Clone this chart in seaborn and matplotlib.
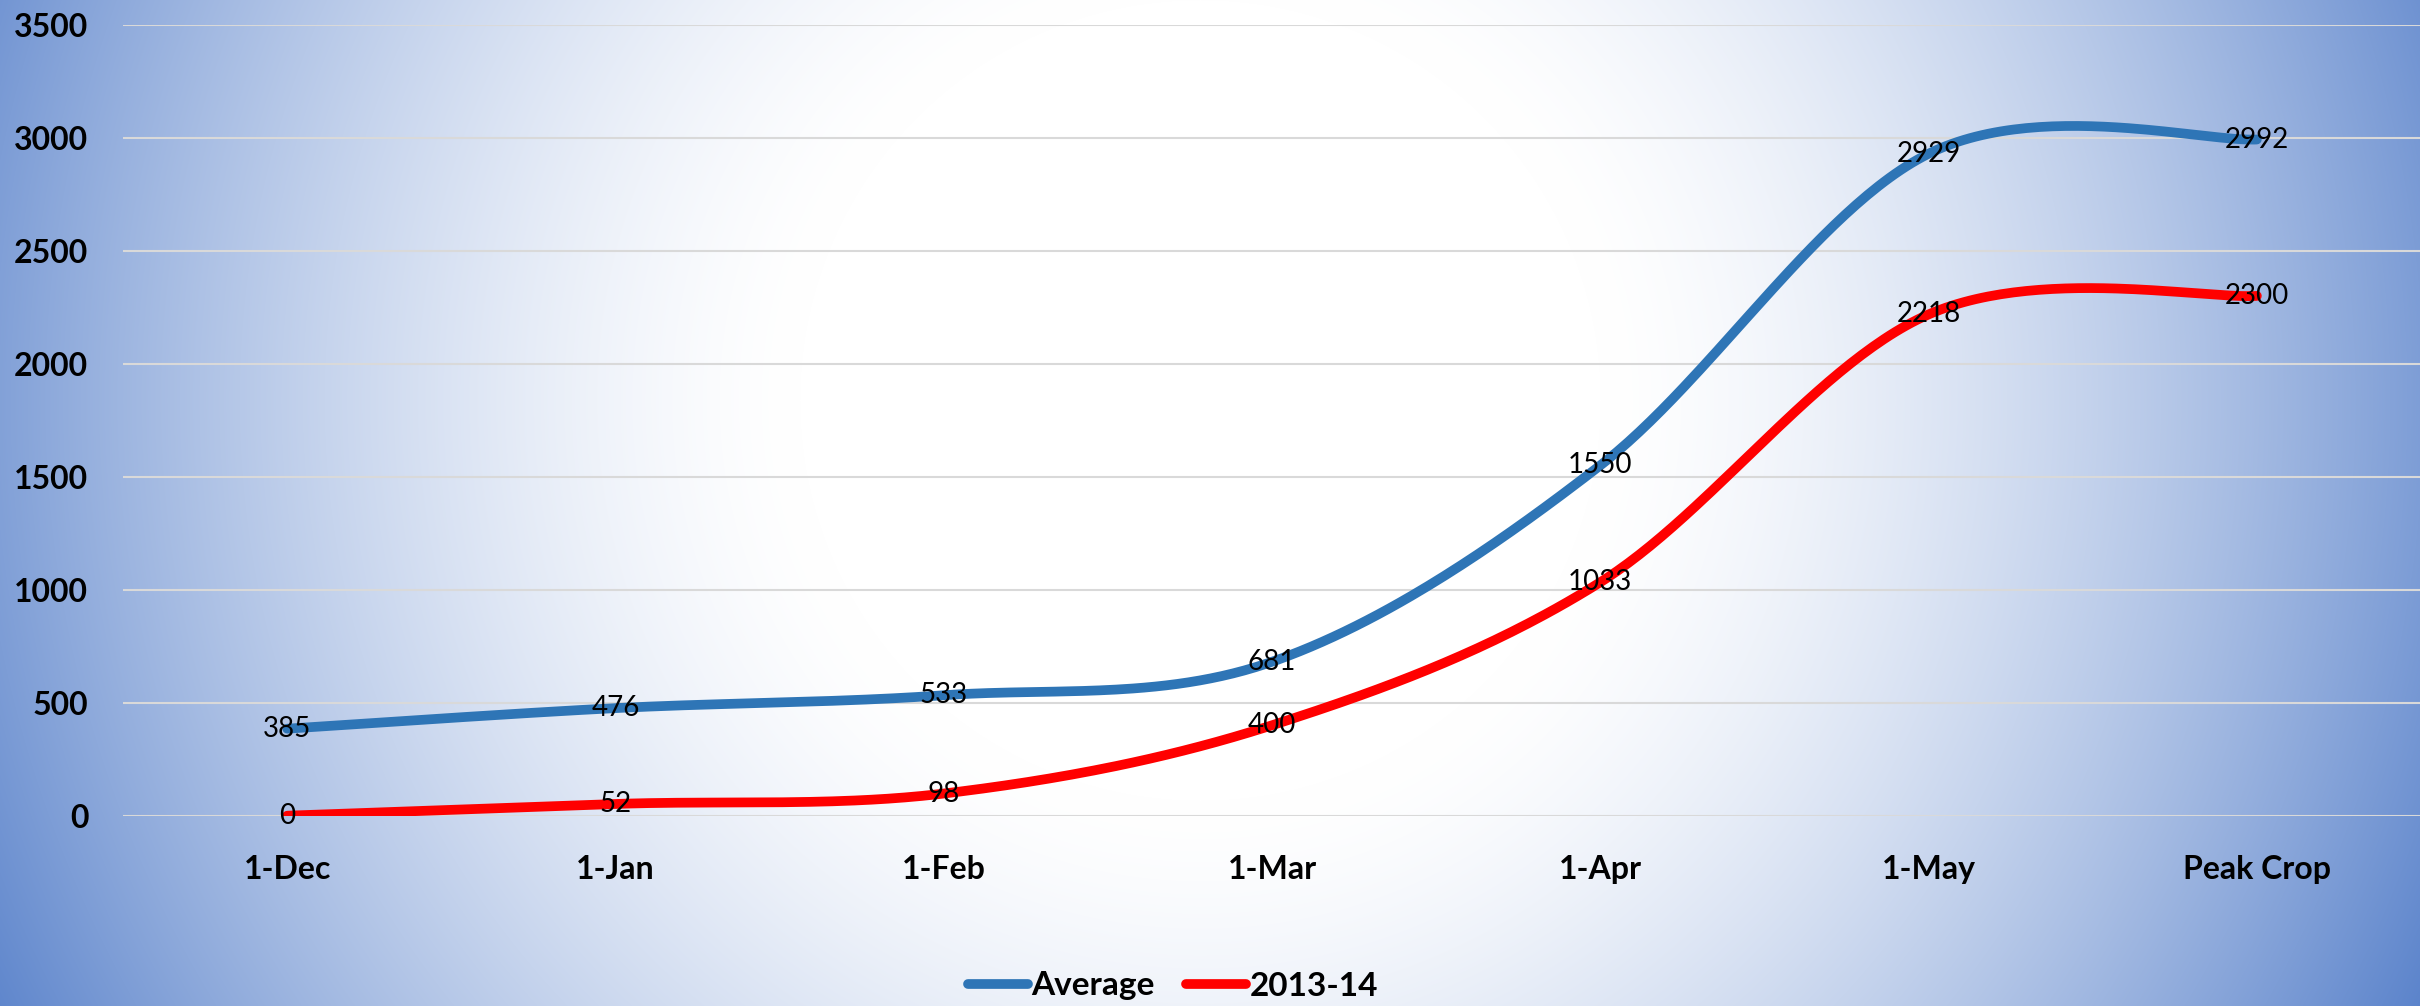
import numpy as np
import pandas as pd
import matplotlib
matplotlib.use("Agg")
import matplotlib.pyplot as plt
import seaborn as sns
from matplotlib.lines import Line2D

# Chart data
categories = ["1-Dec", "1-Jan", "1-Feb", "1-Mar", "1-Apr", "1-May", "Peak Crop"]
average = [385, 476, 533, 681, 1550, 2929, 2992]
season_2013_14 = [0, 52, 98, 400, 1033, 2218, 2300]
y_ticks = [0, 500, 1000, 1500, 2000, 2500, 3000, 3500]

BLUE = "#2E75B6"
RED = "#FF0000"
EDGE_BLUE = np.array([68, 114, 196]) / 255.0


def excel_smooth(xs, ys, n=60):
    """Bezier smoothing the way spreadsheet 'smoothed line' charts draw it."""
    pts = np.column_stack([xs, ys]).astype(float)
    padded = np.vstack([pts[0], pts, pts[-1]])
    out = []
    for i in range(len(pts) - 1):
        p0, p1, p2, p3 = padded[i], padded[i + 1], padded[i + 2], padded[i + 3]
        c1 = p1 + (p2 - p0) / 6
        c2 = p2 - (p3 - p1) / 6
        t = np.linspace(0, 1, n)[:, None]
        seg = (1 - t) ** 3 * p1 + 3 * (1 - t) ** 2 * t * c1 + 3 * (1 - t) * t ** 2 * c2 + t ** 3 * p2
        out.append(seg if i == 0 else seg[1:])
    return np.vstack(out)


sns.set_style("white")
plt.rcParams["font.family"] = ["Lato", "DejaVu Sans"]
plt.rcParams["text.color"] = "black"

W, H = 2420, 1006
fig = plt.figure(figsize=(W / 100, H / 100), dpi=100)

# radial background, white centre fading to blue
yy, xx = np.mgrid[0:H, 0:W]
r = np.hypot(xx - 1200, yy - 400)
t = np.clip((r - 400) / (1450 - 400), 0, 1) ** 1.5
bg = (1 - t)[..., None] * np.ones(3) + t[..., None] * EDGE_BLUE
fig.figimage(bg, xo=0, yo=0, origin="upper", zorder=-10)

ax = fig.add_axes([123 / W, 1 - 815.7 / H, 2298 / W, (815.7 - 24.7) / H])
ax.set_facecolor("none")

x = np.arange(len(categories)) + 0.5
rows = []
for name, vals in [("Average", average), ("2013-14", season_2013_14)]:
    curve = excel_smooth(x, vals)
    rows.append(pd.DataFrame({"x": curve[:, 0], "y": curve[:, 1], "series": name}))
df = pd.concat(rows, ignore_index=True)

sns.lineplot(data=df, x="x", y="y", hue="series", palette={"Average": BLUE, "2013-14": RED},
             sort=False, estimator=None, linewidth=7, solid_capstyle="round", legend=False, ax=ax, zorder=3)

for vals in (average, season_2013_14):
    for xi, v in zip(x, vals):
        ax.text(xi, v, str(v), ha="center", va="center", fontsize=20, color="black", zorder=5)

ax.set_xlim(0, 7)
ax.set_ylim(0, 3500)
ax.set_xticks(x)
ax.set_xticklabels(categories, fontsize=23, fontweight="bold", color="black")
ax.set_yticks(y_ticks)
ax.set_yticklabels([str(v) for v in y_ticks], fontsize=23, fontweight="bold", color="black")
ax.tick_params(axis="both", length=0, labelcolor="black")
ax.tick_params(axis="y", pad=25)
ax.tick_params(axis="x", pad=28)
ax.yaxis.grid(True, color="#D9D9D9", linewidth=1.5)
ax.xaxis.grid(False)
ax.set_axisbelow(True)
ax.set_xlabel("")
ax.set_ylabel("")
for s in ax.spines.values():
    s.set_visible(False)

handles = [Line2D([], [], color=BLUE, lw=7, solid_capstyle="round"),
           Line2D([], [], color=RED, lw=7, solid_capstyle="round")]
leg = fig.legend(handles, ["Average", "2013-14"], loc="center", bbox_to_anchor=(1173 / W, 1 - 986 / H),
                 ncol=2, frameon=False, prop={"size": 24, "weight": "bold"},
                 handlelength=1.8, handletextpad=0.1, columnspacing=0.95, borderpad=0)
for txt in leg.get_texts():
    txt.set_color("black")

fig.savefig("out.png", dpi=100)
